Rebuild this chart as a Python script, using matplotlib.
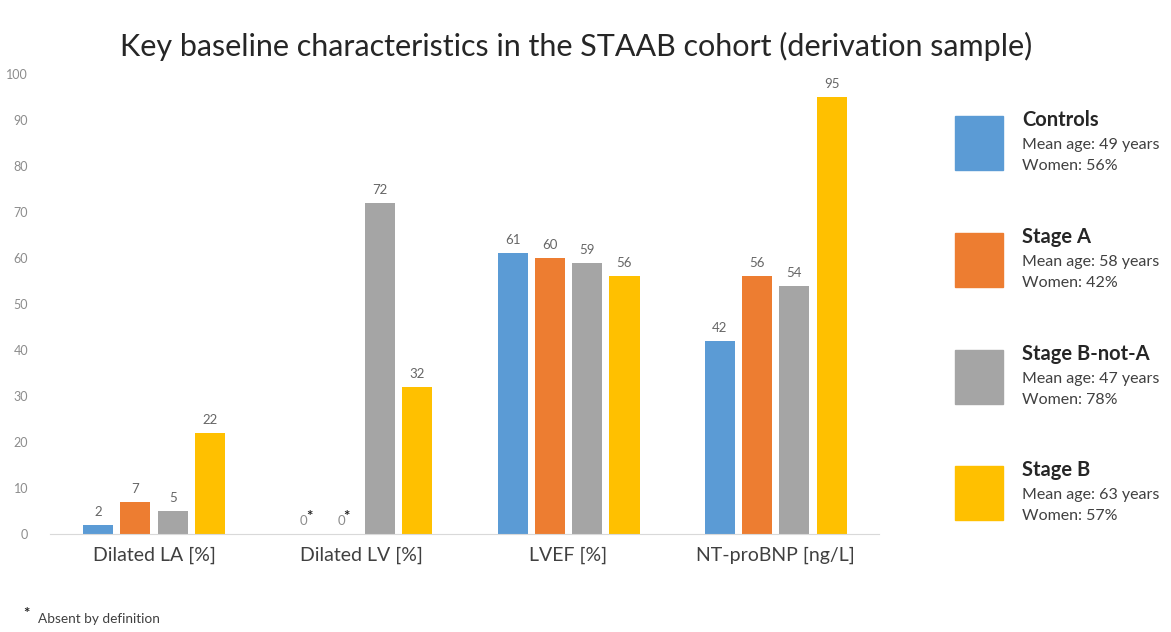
import matplotlib
matplotlib.use("Agg")
import matplotlib.pyplot as plt
from matplotlib.patches import Rectangle
import numpy as np

plt.rcParams['font.family'] = ['Lato', 'DejaVu Sans']

categories = ["Dilated LA [%]", "Dilated LV [%]", "LVEF [%]", "NT-proBNP [ng/L]"]
groups = ["Controls", "Stage A", "Stage B-not-A", "Stage B"]
mean_age = [49, 58, 47, 63]
women = [56, 42, 78, 57]
controls = [2, 0, 61, 42]
stage_a = [7, 0, 60, 56]
stage_b_not_a = [5, 72, 59, 54]
stage_b = [22, 32, 56, 95]
absent = [[False, True, False, False], [False, True, False, False],
          [False, False, False, False], [False, False, False, False]]
colors = ["#5B9BD5", "#ED7D31", "#A5A5A5", "#FFC000"]
yticks = list(range(0, 101, 10))

series = [controls, stage_a, stage_b_not_a, stage_b]

fig = plt.figure(figsize=(11.71, 6.32), dpi=100)
ax = fig.add_axes([0.043, 0.155, 0.708, 0.728])

x = np.arange(len(categories))
pitch = 0.18
width = 0.145
for i, (vals, c) in enumerate(zip(series, colors)):
    xs = x + (i - 1.5) * pitch
    ax.bar(xs, vals, width=width, color=c, zorder=2)
    for j, (xx, v) in enumerate(zip(xs, vals)):
        if absent[i][j]:
            ax.text(xx - 0.008, v + 1.5, "0", ha="center", va="bottom", fontsize=9.5, color="#8c8c8c")
            ax.text(xx + 0.018, v + 2.2, "*", ha="center", va="bottom", fontsize=11, color="#222222", fontweight="bold")
        else:
            ax.text(xx, v + 1.5, str(v), ha="center", va="bottom", fontsize=9.5, color="#666666")

ax.set_xlim(-0.5, 3.5)
ax.set_ylim(0, 100)
ax.set_yticks(yticks)
ax.set_yticklabels([str(t) for t in yticks], fontsize=9, color="#8c8c8c")
ax.set_xticks(x)
ax.set_xticklabels(categories, fontsize=14, color="#404040")
for s in ["top", "right", "left"]:
    ax.spines[s].set_visible(False)
ax.spines["bottom"].set_color("#D9D9D9")
ax.tick_params(axis="both", length=0)
ax.tick_params(axis="y", pad=16)
ax.tick_params(axis="x", pad=9)

fig.text(0.492, 0.927, "Key baseline characteristics in the STAAB cohort (derivation sample)",
         ha="center", va="center", fontsize=22, color="#262626")

# Legend
W, H = 1171, 632
tops = [116, 233, 350, 466]
for g, c, a, w, t in zip(groups, colors, mean_age, women, tops):
    fig.patches.append(Rectangle((955 / W, 1 - (t + 54) / H), 48 / W, 54 / H,
                                 transform=fig.transFigure, color=c))
    fig.text(1022 / W, 1 - (t + 4) / H, g, fontsize=14.5, fontweight="bold", color="#262626", va="center")
    fig.text(1022 / W, 1 - (t + 29) / H, f"Mean age: {a} years", fontsize=11.5, color="#404040", va="center")
    fig.text(1022 / W, 1 - (t + 50) / H, f"Women: {w}%", fontsize=11.5, color="#404040", va="center")

fig.text(23 / W, 1 - 614 / H, "*", fontsize=11, fontweight="bold", color="#222222", va="center")
fig.text(38 / W, 1 - 619 / H, "Absent by definition", fontsize=9.8, color="#404040", va="center")

fig.savefig("out.png", dpi=100, facecolor="white")
